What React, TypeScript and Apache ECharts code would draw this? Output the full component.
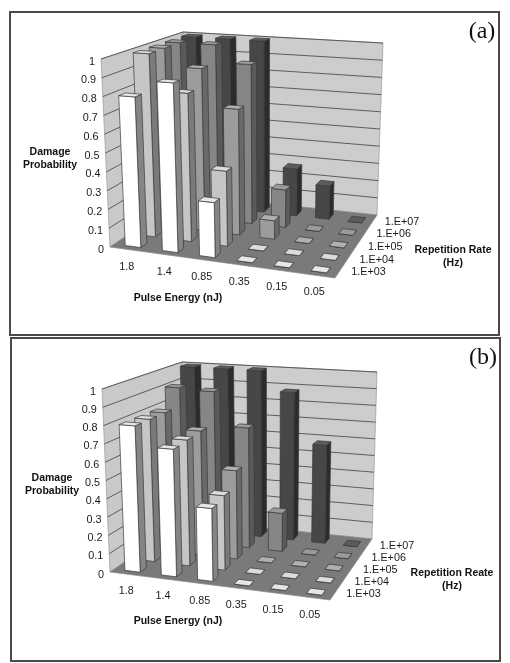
import React, { useEffect, useRef } from "react";
import * as echarts from "echarts";

const pulseEnergies = ["1.8", "1.4", "0.85", "0.35", "0.15", "0.05"];
const repRates = ["1.E+03", "1.E+04", "1.E+05", "1.E+06", "1.E+07"];
const probTicks = [0, 0.1, 0.2, 0.3, 0.4, 0.5, 0.6, 0.7, 0.8, 0.9, 1];

// rows: repetition rate, columns: pulse energy
const panelA = [
  [0.8, 0.89, 0.285, 0, 0, 0],
  [1, 0.8, 0.4, 0, 0, 0],
  [1, 0.9, 0.69, 0.1, 0, 0],
  [1, 1, 0.9, 0.21, 0, 0],
  [1, 1, 1, 0.27, 0.19, 0],
];
const panelB = [
  [0.8, 0.69, 0.39, 0, 0, 0],
  [0.8, 0.7, 0.41, 0, 0, 0],
  [0.8, 0.71, 0.5, 0, 0, 0],
  [0.91, 0.9, 0.7, 0.22, 0, 0],
  [1, 1, 1, 0.88, 0.58, 0],
];

const rowFill = ["#ffffff", "#c6c6c6", "#9c9c9c", "#868686", "#474747"];
const rowTop = ["#e6e6e6", "#dcdcdc", "#b0b0b0", "#9a9a9a", "#5c5c5c"];
const rowSide = ["#858585", "#7a7a7a", "#696969", "#5a5a5a", "#2c2c2c"];

type Pt = [number, number];
type Geo = {
  FLB: Pt; FRB: Pt; BLB: Pt; BRB: Pt; FLT: Pt; FRT: Pt; BLT: Pt; BRT: Pt;
  title: string; tag: string; yName: Pt; xName: Pt; zName: Pt; tagPos: Pt;
  box: [number, number, number, number];
};
const geoA: Geo = {
  FLB: [110, 247], FRB: [335, 278], BLB: [187, 195], BRB: [377, 215],
  FLT: [101, 59], FRT: [338, 75], BLT: [183, 32], BRT: [383, 43],
  title: "Repetition Rate", tag: "(a)", yName: [50, 157], xName: [178, 297], zName: [453, 249], tagPos: [482, 30],
  box: [10, 12, 489, 323],
};
const geoB: Geo = {
  FLB: [110, 572], FRB: [330, 600], BLB: [186, 520], BRB: [372, 539],
  FLT: [102, 389], FRT: [333, 405], BLT: [182, 362], BRT: [377, 372],
  title: "Repetition Reate", tag: "(b)", yName: [52, 483], xName: [178, 620], zName: [452, 572], tagPos: [483, 356],
  box: [11, 338, 489, 323],
};

const lerp = (a: Pt, b: Pt, t: number): Pt => [a[0] + (b[0] - a[0]) * t, a[1] + (b[1] - a[1]) * t];

// 3D position (u along pulse energy, v along rep. rate, w = probability) -> axis units of the panel's grid
function project(g: Geo, u: number, v: number, w: number): Pt {
  const bot = lerp(lerp(g.FLB, g.FRB, u), lerp(g.BLB, g.BRB, u), v);
  const top = lerp(lerp(g.FLT, g.FRT, u), lerp(g.BLT, g.BRT, u), v);
  const p = lerp(bot, top, w);
  const sx = (g.FRB[0] - g.FLB[0]) / pulseEnergies.length;
  const sy = g.FLB[1] - g.FLT[1];
  return [(p[0] - g.FLB[0]) / sx, (g.FLB[1] - p[1]) / sy];
}

const NC = pulseEnergies.length;
const NR = repRates.length;
const HALF_C = 0.21;
const HALF_R = 0.21;
const font = '"Liberation Sans", Arial, sans-serif';

function seriesFor(g: Geo, values: number[][], idx: number) {
  const at = (api: any, u: number, v: number, w: number) => api.coord(project(g, u, v, w));
  const poly = (points: number[][], fill: string, stroke: string, lineWidth = 0.7) => ({
    type: "polygon", shape: { points }, style: { fill, stroke, lineWidth },
  });
  const base = { type: "custom", coordinateSystem: "cartesian2d", xAxisIndex: idx, yAxisIndex: idx, silent: true, clip: false };
  const walls = {
    ...base, data: [[0]],
    renderItem: (_: any, api: any) => ({
      type: "group",
      children: [
        poly([at(api, 0, 0, 0), at(api, 0, 1, 0), at(api, 0, 1, 1), at(api, 0, 0, 1)], "#c9c9c9", "#9a9a9a"),
        poly([at(api, 0, 1, 0), at(api, 1, 1, 0), at(api, 1, 1, 1), at(api, 0, 1, 1)], "#cdcdcd", "#9a9a9a"),
        poly([at(api, 0, 0, 0), at(api, 1, 0, 0), at(api, 1, 1, 0), at(api, 0, 1, 0)], "#7a7a7a", "#8a8a8a"),
      ],
    }),
  };
  const grid = {
    ...base, data: probTicks.slice(1).map((t) => [t]),
    renderItem: (_: any, api: any) => {
      const w = api.value(0);
      return {
        type: "polyline",
        shape: { points: [at(api, 0, 0, w), at(api, 0, 1, w), at(api, 1, 1, w)] },
        style: { fill: "none", stroke: "#505050", lineWidth: 0.9 },
      };
    },
  };
  const barData: number[][] = [];
  for (let r = NR - 1; r >= 0; r--) for (let c = 0; c < NC; c++) barData.push([c, r, values[r][c]]);
  const bars = {
    ...base, data: barData,
    renderItem: (_: any, api: any) => {
      const c = api.value(0), r = api.value(1), val = api.value(2);
      const u0 = (c + 0.5 - HALF_C) / NC, u1 = (c + 0.5 + HALF_C) / NC;
      const v0 = (r + 0.5 - HALF_R) / NR, v1 = (r + 0.5 + HALF_R) / NR;
      const edge = "#3a3a3a";
      return {
        type: "group",
        children: [
          poly([at(api, u1, v0, 0), at(api, u1, v1, 0), at(api, u1, v1, val), at(api, u1, v0, val)], rowSide[r], edge),
          poly([at(api, u0, v0, 0), at(api, u1, v0, 0), at(api, u1, v0, val), at(api, u0, v0, val)], rowFill[r], edge),
          poly([at(api, u0, v0, val), at(api, u1, v0, val), at(api, u1, v1, val), at(api, u0, v1, val)], rowTop[r], edge),
        ],
      };
    },
  };
  const txt = (x: number, y: number, text: string, align: string) => ({
    type: "text", x, y,
    style: { text, fill: "#1a1a1a", font: `10.8px ${font}`, textAlign: align, textVerticalAlign: "middle" },
  });
  const yLabels = {
    ...base, data: probTicks.map((t) => [t]),
    renderItem: (_: any, api: any) => {
      const t = api.value(0);
      const p = at(api, 0, 0, t);
      return txt(p[0] - 6, p[1] + 1.5, String(t), "right");
    },
  };
  const xLabels = {
    ...base, data: pulseEnergies.map((_, i) => [i]),
    renderItem: (_: any, api: any) => {
      const i = api.value(0);
      const p = at(api, (i + 0.5) / NC, 0, 0);
      return txt(p[0] - 2, p[1] + 16, pulseEnergies[i], "center");
    },
  };
  const zLabels = {
    ...base, data: repRates.map((_, i) => [i]),
    renderItem: (_: any, api: any) => {
      const i = api.value(0);
      const p = at(api, 1, (i + 0.5) / NR, 0);
      return txt(p[0] + 12, p[1] - 0.5, repRates[i], "left");
    },
  };
  return [walls, grid, bars, yLabels, xLabels, zLabels];
}

function gridFor(g: Geo) {
  return {
    left: g.FLB[0], top: g.FLT[1], width: g.FRB[0] - g.FLB[0], height: g.FLB[1] - g.FLT[1],
    show: false, containLabel: false,
  };
}

function graphicFor(g: Geo) {
  const bold = `bold 10.5px ${font}`;
  const t = (x: number, y: number, text: string, f = bold) => ({
    type: "text", x, y, silent: true,
    style: { text, fill: "#111", font: f, textAlign: "center", textVerticalAlign: "middle" },
  });
  return [
    {
      type: "rect", silent: true,
      shape: { x: g.box[0], y: g.box[1], width: g.box[2], height: g.box[3] },
      style: { fill: "#fff", stroke: "#4a4a4a", lineWidth: 2 },
      z: -10,
    },
    t(g.yName[0], g.yName[1] - 6.5, "Damage"),
    t(g.yName[0], g.yName[1] + 6.5, "Probability"),
    t(g.xName[0], g.xName[1], "Pulse Energy (nJ)"),
    t(g.zName[0], g.zName[1], g.title),
    t(g.zName[0], g.zName[1] + 13, "(Hz)"),
    t(g.tagPos[0], g.tagPos[1], g.tag, '24px "Liberation Serif", "Times New Roman", serif'),
  ];
}

export default function App() {
  const ref = useRef<HTMLDivElement>(null);
  useEffect(() => {
    const chart = echarts.init(ref.current!, undefined, { renderer: "svg" });
    const hidden = { type: "value", show: false, scale: false };
    chart.setOption({
      animation: false,
      backgroundColor: "#ffffff",
      grid: [gridFor(geoA), gridFor(geoB)],
      xAxis: [0, 1].map((i) => ({ ...hidden, gridIndex: i, min: 0, max: NC })),
      yAxis: [0, 1].map((i) => ({ ...hidden, gridIndex: i, min: 0, max: 1 })),
      graphic: { elements: [...graphicFor(geoA), ...graphicFor(geoB)] },
      series: [...seriesFor(geoA, panelA, 0), ...seriesFor(geoB, panelB, 1)],
    });
    return () => chart.dispose();
  }, []);
  return <div ref={ref} style={{ position: "absolute", left: 0, top: 0, width: 510, height: 663, filter: "blur(0.4px)" }} />;
}
